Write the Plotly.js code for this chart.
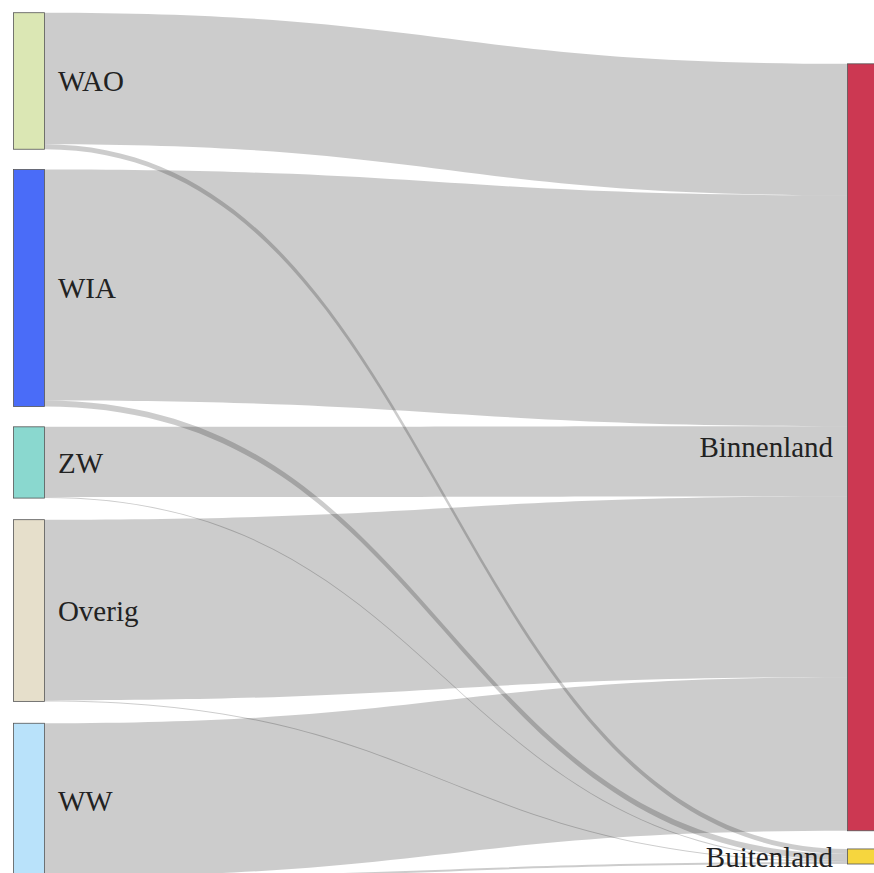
<!DOCTYPE html>
<html>
<head>
<meta charset="utf-8">
<script src="https://cdn.plot.ly/plotly-3.0.1.min.js"></script>
<style>
html, body { margin: 0; padding: 0; overflow: hidden; background: #fff; }
#chart { width: 892px; height: 892px; }
.node-label { text-shadow: none !important; font-family: "Liberation Serif", "Times New Roman", serif !important; }
</style>
</head>
<body>
<div id="chart"></div>
<script>
// Node labels and colours
const nodeLabels = ["WAO", "WIA", "ZW", "Overig", "WW", "Binnenland", "Buitenland"];
const nodeColors = ["#dbe7b4", "#4a6cf8", "#8ad8cf", "#e6dfcb", "#b9e2fa", "#cc3852", "#f6d63e"];

// Flows (source index -> target index, value)
const linkSources = [0, 0, 1, 1, 2, 2, 3, 3, 4, 4];
const linkTargets = [5, 6, 5, 6, 5, 6, 5, 6, 5, 6];
const linkValues  = [131, 5, 230, 6, 70, 1, 180, 1, 153, 2];

// Layout-only placement of nodes (normalized centres)
const nodeX = [0.0185, 0.0185, 0.0185, 0.0185, 0.0185, 0.9815, 0.9815];
const nodeY = [0.0785, 0.3176, 0.519, 0.690, 0.910, 0.5015, 0.974];
const rightLabels = ["Binnenland", "Buitenland"];

const FONT = "Liberation Serif, Times New Roman, serif";

const data = [{
  type: "sankey",
  orientation: "h",
  arrangement: "fixed",
  node: {
    label: nodeLabels,
    color: nodeColors,
    x: nodeX,
    y: nodeY,
    thickness: 31,
    pad: 21,
    line: { color: "#555", width: 0.8 }
  },
  link: {
    source: linkSources,
    target: linkTargets,
    value: linkValues
  },
  textfont: { family: FONT, size: 29, color: "#222" }
}];

const layout = {
  width: 892,
  height: 892,
  margin: { l: 13, r: 13, t: 13, b: 13 },
  paper_bgcolor: "#fff",
  font: { family: FONT, size: 29, color: "#222" }
};

Plotly.newPlot("chart", data, layout, { displayModeBar: false }).then(function () {
  document.querySelectorAll("#chart .node-label").forEach(function (t) {
    const isRight = rightLabels.indexOf(t.textContent.trim()) >= 0;
    t.setAttribute("dx", isRight ? -11 : 10);
  });
});
</script>
</body>
</html>
